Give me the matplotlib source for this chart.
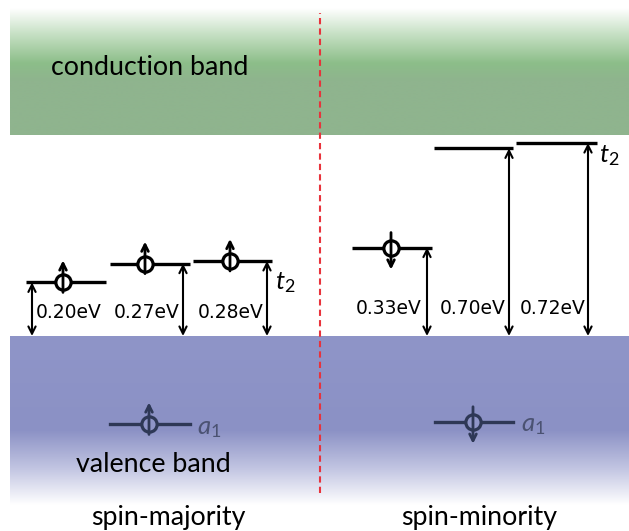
import numpy as np
import matplotlib.pyplot as plt
from matplotlib.colors import to_rgb

plt.rcParams['font.family'] = ['Lato', 'DejaVu Sans']
plt.rcParams['mathtext.fontset'] = 'custom'
plt.rcParams['mathtext.it'] = 'Lato:italic'
plt.rcParams['mathtext.rm'] = 'Lato'

# defect levels measured from the valence band maximum (eV)
maj_levels = [0.20, 0.27, 0.28]
min_levels = [0.33, 0.70, 0.72]
maj_labels = ['0.20eV', '0.27eV', '0.28eV']
min_labels = ['0.33eV', '0.70eV', '0.72eV']
maj_spin = ['up', 'up', 'up']
min_spin = ['down', None, None]
a1_levels = [-0.33, -0.32]
a1_spin = ['up', 'down']
cbm = 0.75

px = 1 / 268.0  # eV per pixel
top = 336 * px
bottom = -(531 - 336) * px

fig = plt.figure(figsize=(6.29, 5.31), dpi=100)
ax = fig.add_axes([0, 0, 1, 1])
ax.set_xlim(0, 629)
ax.set_ylim(bottom, top)
ax.axis('off')

# bands as vertical gradients
def band(y_lo, y_hi, stops):
    ys = np.linspace(y_hi, y_lo, 300)
    pos = [s[0] for s in stops]
    cols = np.array([to_rgb(s[1]) for s in stops])
    img = np.zeros((300, 1, 3))
    for c in range(3):
        img[:, 0, c] = np.interp(ys, pos, cols[:, c])
    ax.imshow(img, extent=[10, 629, y_lo, y_hi], aspect='auto', origin='upper',
              interpolation='bilinear', zorder=0)

cb_top = (336 - 8) * px
band(cbm, cb_top, [(cbm, '#8fb48e'), ((336 - 80) * px, '#8fb48e'),
                   ((336 - 63) * px, '#8cbe89'), ((336 - 35) * px, '#c4dfc2'),
                   (cb_top, '#ffffff')])
vb_bot = -(505 - 336) * px
band(vb_bot, 0, [(vb_bot, '#ffffff'), (-(470 - 336) * px, '#c4c7e3'),
                 (-(430 - 336) * px, '#8b91c5'), (0, '#8f95c8')])

ax.plot([320, 320], [-(493 - 336) * px, (336 - 13) * px], color='#e8333c',
        lw=1.5, ls=(0, (3, 2)), zorder=1)

ax.text(150, (336 - 67) * px, 'conduction band', fontsize=19.3, ha='center', va='center')
ax.text(153, -(465 - 336) * px, 'valence band', fontsize=19.3, ha='center', va='center')
ax.text(168, -(518 - 336) * px, 'spin-majority', fontsize=19.3, ha='center', va='center')
ax.text(479, -(518 - 336) * px, 'spin-minority', fontsize=19.3, ha='center', va='center')


def spin(x, y, d, color, face):
    if d == 'up':
        tail, tip = y - 10 * px, y + 22 * px
    else:
        tail, tip = y + 15 * px, y - 22 * px
    ax.plot(x, y, 'o', ms=11, mfc=face, mec=color, mew=2.3, zorder=4)
    ax.annotate('', xy=(x, tip), xytext=(x, tail), zorder=5,
                arrowprops=dict(arrowstyle='->', lw=2.0, color=color,
                                shrinkA=0, shrinkB=0, mutation_scale=12))


def levels(vals, labels, spins, spans, arrow_x, circ_x, label_x, label_y, aligns):
    for i, e in enumerate(vals):
        x0, x1 = spans[i]
        ax.plot([x0, x1], [e, e], color='black', lw=2.4, solid_capstyle='butt', zorder=3)
        ax.annotate('', xy=(arrow_x[i], 0), xytext=(arrow_x[i], e), zorder=3,
                    arrowprops=dict(arrowstyle='<->', lw=1.5, color='black',
                                    shrinkA=0, shrinkB=0, mutation_scale=13))
        ax.text(label_x[i], label_y, labels[i], fontsize=13.5, ha=aligns[i],
                va='center', family='DejaVu Sans', zorder=4)
        if spins[i]:
            spin(circ_x[i], e, spins[i], 'black', 'white')


levels(maj_levels, maj_labels, maj_spin,
       [(26, 106), (110, 190), (193, 272)], [32, 183, 267], [63, 145, 230],
       [36, 180, 264], (336 - 313) * px, ['left', 'right', 'right'])
levels(min_levels, min_labels, min_spin,
       [(352, 432), (434, 513), (516, 597)], [427, 509, 588], [391, 0, 0],
       [422, 506, 586], (336 - 308) * px, ['right', 'right', 'right'])

ax.text(275, maj_levels[2] - 22 * px, '$t_2$', fontsize=18.5, va='center', ha='left')
ax.text(599, min_levels[2] - 12 * px, '$t_2$', fontsize=18.5, va='center', ha='left')

# a1 levels inside the valence band
navy = '#2e3856'
for e, s, (x0, x1), cx, lx in zip(a1_levels, a1_spin, [(110, 190), (435, 513)],
                                  [149, 473], [197, 521]):
    ax.plot([x0, x1], [e, e], color=navy, lw=2.4, zorder=3)
    spin(cx, e, s, navy, '#8f95c8')
    ax.text(lx, e - 3 * px, '$a_1$', fontsize=18.5, color='#4b5272', va='center', ha='left')

fig.savefig('out.png', dpi=100)
